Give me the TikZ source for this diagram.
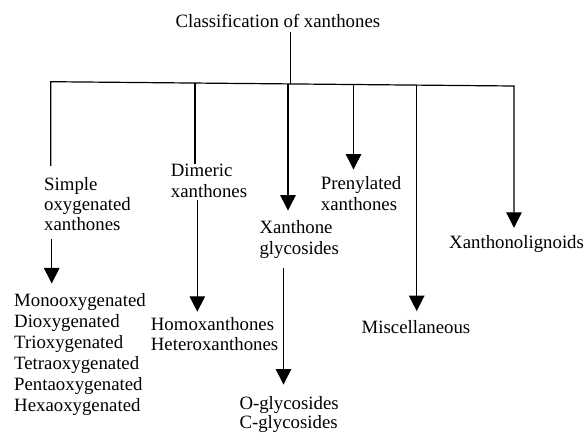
\documentclass[tikz,border=0pt]{standalone}
\usepackage{fontspec}
\setmainfont{Liberation Serif}
\usetikzlibrary{arrows.meta}
\begin{document}
\begin{tikzpicture}[x=1pt,y=-1pt,
  lbl/.style={font=\fontsize{18.8}{20.6}\selectfont, inner sep=0pt, align=left, anchor=base west},
  conn/.style={line width=1.2pt, draw=black},
  arr/.style={conn, -{Triangle[width=15.5pt,length=15.5pt]}}]
\useasboundingbox (0,0) rectangle (587,432);
% labels (anchored at the baseline of their last line)
\node[lbl] (title) at (175.3,27) {Classification of xanthones};
\node[lbl, font=\fontsize{18.8}{20.35}\selectfont] (simple) at (44,230.7) {Simple\\oxygenated\\xanthones};
\node[lbl, font=\fontsize{18.8}{20.9}\selectfont] (list) at (14,411.2) {Monooxygenated\\Dioxygenated\\Trioxygenated\\Tetraoxygenated\\Pentaoxygenated\\Hexaoxygenated};
\node[lbl] (dimeric) at (170.7,197.3) {Dimeric\\xanthones};
\node[lbl, font=\fontsize{18.8}{20}\selectfont] (homo) at (150.7,350) {Homoxanthones\\Heteroxanthones};
\node[lbl, font=\fontsize{18.8}{20.7}\selectfont] (xglyc) at (259.3,254) {Xanthone\\glycosides};
\node[lbl, font=\fontsize{18.8}{19}\selectfont] (oglyc) at (239.3,428.3) {O-glycosides\\C-glycosides};
\node[lbl, font=\fontsize{18.8}{20.7}\selectfont] (pren) at (320.7,210) {Prenylated\\xanthones};
\node[lbl] (misc) at (361.5,333.3) {Miscellaneous};
\node[lbl] (xl) at (449,248) {Xanthonolignoids};
% bus coordinates
\coordinate (busL) at (50.7,81.7);
\coordinate (busR) at (514,86);
\coordinate (tdrop) at (290.7,83.6);
\coordinate (b2) at (195,83.3);
\coordinate (b3) at (288,83.6);
\coordinate (b4) at (353.5,84.5);
\coordinate (b5) at (416.7,84.8);
\coordinate (x1) at (51.7,0);
\coordinate (x2) at (197.3,0);
\coordinate (x3) at (283.5,0);
% connectors
\draw[conn, shorten <=5pt] (title.south -| tdrop) -- (tdrop);
\draw[arr, shorten <=11pt, shorten >=7pt] (busL |- simple.north) -- (busL) -- (busR) -- (busR |- xl.north);
\draw[conn] (b2) -- (b2 |- dimeric.north);
\draw[arr, shorten >=9.5pt] (b3) -- (b3 |- xglyc.north);
\draw[arr, shorten >=6.5pt] (b4) -- (b4 |- pren.north);
\draw[arr, shorten >=9pt] (b5) -- (b5 |- misc.north);
\draw[arr, shorten <=8pt, shorten >=10pt] (simple.south -| x1) -- (list.north -| x1);
\draw[arr, shorten <=2.5pt, shorten >=5pt] (dimeric.south -| x2) -- (homo.north -| x2);
\draw[arr, shorten <=10pt, shorten >=11.5pt] (xglyc.south -| x3) -- (oglyc.north -| x3);
\end{tikzpicture}
\end{document}
